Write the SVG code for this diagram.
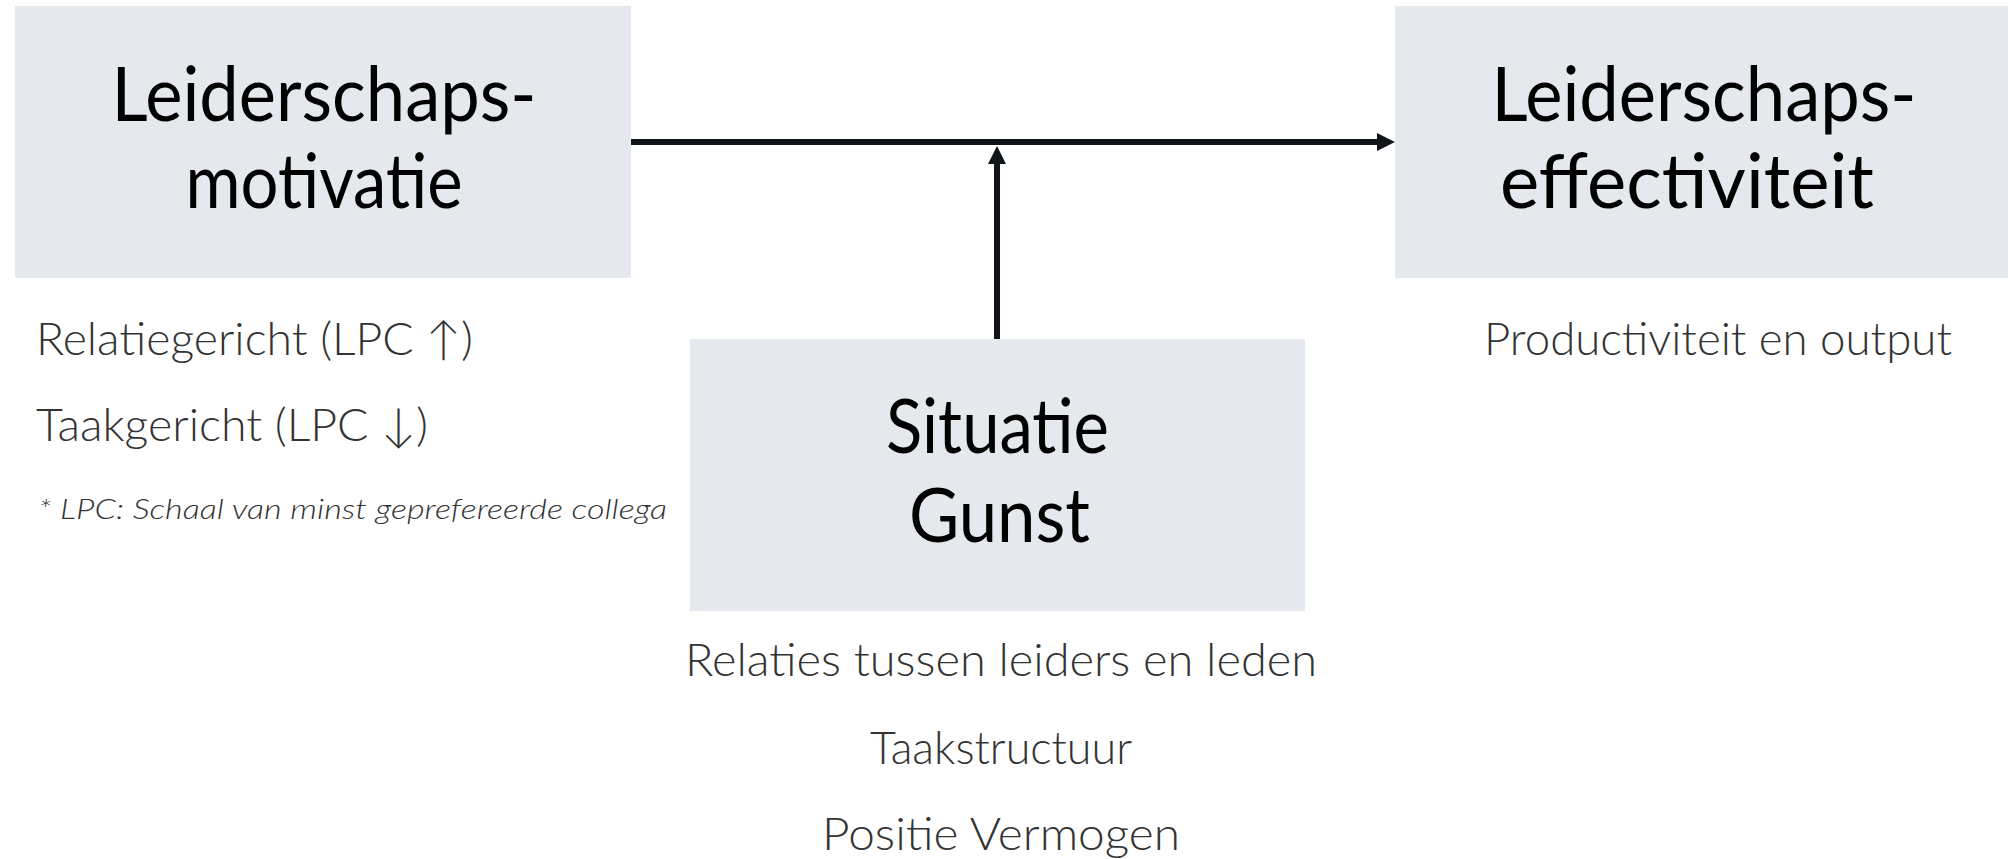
<svg xmlns="http://www.w3.org/2000/svg" width="2008" height="859" viewBox="0 0 2008 859">
<style>
.box{fill:#e5e8ec}
.title{font-family:Lato,"Noto Sans",sans-serif;font-size:76px;fill:#000;text-anchor:middle}
.sub{font-family:Lato,"Noto Sans",sans-serif;font-size:46px;font-weight:300;fill:#333}
.note{font-family:Lato,"Noto Sans",sans-serif;font-size:28px;font-weight:300;font-style:italic;fill:#333}
.conn{stroke:#111418;stroke-width:6;fill:none}
</style>
<defs>
<marker id="arr" viewBox="0 0 10 10" refX="1.7" refY="5" markerWidth="3" markerHeight="3" orient="auto" markerUnits="strokeWidth">
<path d="M0,0 L10,5 L0,10 z" fill="#111418"/>
</marker>
</defs>
<rect width="2008" height="859" fill="#fff"/>
<g id="node-motivatie">
<rect class="box" x="15" y="6" width="616" height="272"/>
<text class="title"><tspan x="324" y="121" textLength="425" lengthAdjust="spacingAndGlyphs">Leiderschaps-</tspan><tspan x="324" y="208" textLength="277" lengthAdjust="spacingAndGlyphs">motivatie</tspan></text>
<text class="sub" x="36" y="355" textLength="437" lengthAdjust="spacingAndGlyphs">Relatiegericht (LPC ↑)</text>
<text class="sub" x="36" y="441" textLength="392" lengthAdjust="spacingAndGlyphs">Taakgericht (LPC ↓)</text>
<text class="note" x="38" y="519" textLength="629" lengthAdjust="spacingAndGlyphs">* LPC: Schaal van minst geprefereerde collega</text>
</g>
<g id="node-effectiviteit">
<rect class="box" x="1395" y="6" width="613" height="272"/>
<text class="title"><tspan x="1704" y="121" textLength="425" lengthAdjust="spacingAndGlyphs">Leiderschaps-</tspan><tspan x="1687" y="208" textLength="374" lengthAdjust="spacingAndGlyphs">effectiviteit</tspan></text>
<text class="sub" x="1718" y="355" text-anchor="middle" textLength="468" lengthAdjust="spacingAndGlyphs">Productiviteit en output</text>
</g>
<g id="node-situatie">
<rect class="box" x="690" y="339" width="615" height="272"/>
<text class="title"><tspan x="997.5" y="453" textLength="223" lengthAdjust="spacingAndGlyphs">Situatie</tspan><tspan x="999.5" y="542" textLength="181" lengthAdjust="spacingAndGlyphs">Gunst</tspan></text>
<text class="sub" x="1001" y="676" text-anchor="middle" textLength="632" lengthAdjust="spacingAndGlyphs">Relaties tussen leiders en leden</text>
<text class="sub" x="1001" y="764" text-anchor="middle" textLength="262" lengthAdjust="spacingAndGlyphs">Taakstructuur</text>
<text class="sub" x="1001" y="850" text-anchor="middle" textLength="358" lengthAdjust="spacingAndGlyphs">Positie Vermogen</text>
</g>
<g id="connectors">
<line class="conn" x1="631" y1="142" x2="1380" y2="142" marker-end="url(#arr)"/>
<line class="conn" x1="997" y1="339" x2="997" y2="161" marker-end="url(#arr)"/>
</g>
</svg>
